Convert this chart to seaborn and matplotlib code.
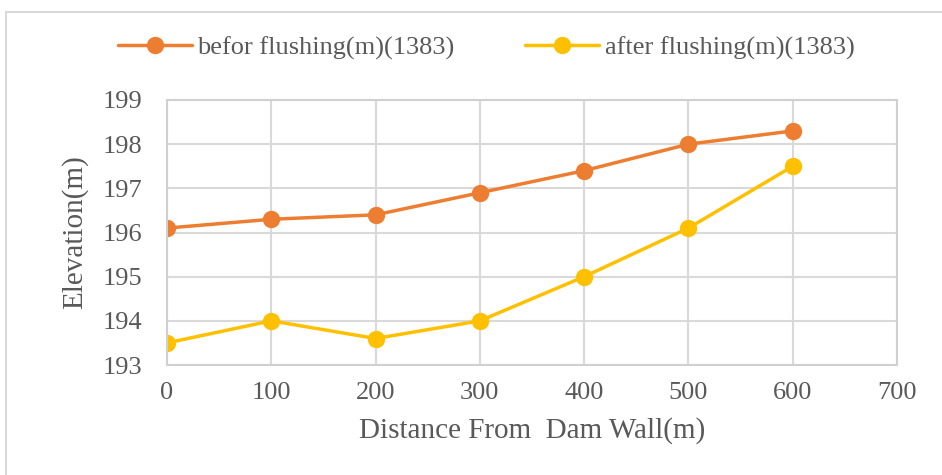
import pandas as pd
import matplotlib.pyplot as plt
import seaborn as sns
from matplotlib.patches import Rectangle

# Data
distance = [0, 100, 200, 300, 400, 500, 600]
before_flushing = [196.1, 196.3, 196.4, 196.9, 197.4, 198.0, 198.3]
after_flushing = [193.5, 194.0, 193.6, 194.0, 195.0, 196.1, 197.5]
series_names = ['befor flushing(m)(1383)', 'after flushing(m)(1383)']
series_colors = ['#ED7D31', '#FFC000']

df = pd.DataFrame({
    'distance': distance * 2,
    'elevation': before_flushing + after_flushing,
    'series': [series_names[0]] * len(distance) + [series_names[1]] * len(distance),
})

sns.set_style('white')
plt.rcParams['font.family'] = ['Liberation Serif', 'DejaVu Serif']
text_color = '#595959'

fig = plt.figure(figsize=(9.42, 4.75), dpi=100)
ax = fig.add_axes([167 / 942, 1 - 365 / 475, (897 - 167) / 942, (365 - 100) / 475])

sns.lineplot(data=df, x='distance', y='elevation', hue='series',
             palette=dict(zip(series_names, series_colors)),
             marker='o', markersize=12.5, markeredgewidth=0, linewidth=2.5,
             ax=ax, legend=False)

# Axes styling
ax.set_xlim(0, 700)
ax.set_ylim(193, 199)
ax.set_xticks(range(0, 701, 100))
ax.set_yticks(range(193, 200))
ax.grid(True, color='#D9D9D9', linewidth=1.5)
ax.set_axisbelow(True)
for side in ['left', 'bottom', 'right', 'top']:
    ax.spines[side].set_color('#D0D0D0')
    ax.spines[side].set_linewidth(1.5)
ax.tick_params(axis='both', length=0, labelsize=19, colors=text_color)
ax.tick_params(axis='x', pad=12)
ax.tick_params(axis='y', pad=18)
for lbl in ax.get_xticklabels() + ax.get_yticklabels():
    lbl.set_color(text_color)

ax.set_xlabel('Distance From  Dam Wall(m)', fontsize=21, color=text_color, labelpad=10)
ax.set_ylabel('Elevation(m)', fontsize=21, color=text_color, labelpad=10)

# Legend
handles = [plt.Line2D([0], [0], color=c, marker='o', markersize=12.5,
                      markeredgewidth=0, linewidth=2.5) for c in series_colors]
fig.legend(handles, series_names, loc='center', bbox_to_anchor=(0.516, 1 - 48 / 475),
           ncol=2, frameon=False, fontsize=19, handlelength=2.8,
           columnspacing=2.7, labelcolor=text_color, handletextpad=0.2)

# Chart area border
fig.patches.append(Rectangle((6 / 942, -0.1), 1.2, 1 - 12 / 475 + 0.1,
                             transform=fig.transFigure, fill=False,
                             edgecolor='#D9D9D9', linewidth=1.5, clip_on=False))

plt.savefig('out.png', dpi=100)
